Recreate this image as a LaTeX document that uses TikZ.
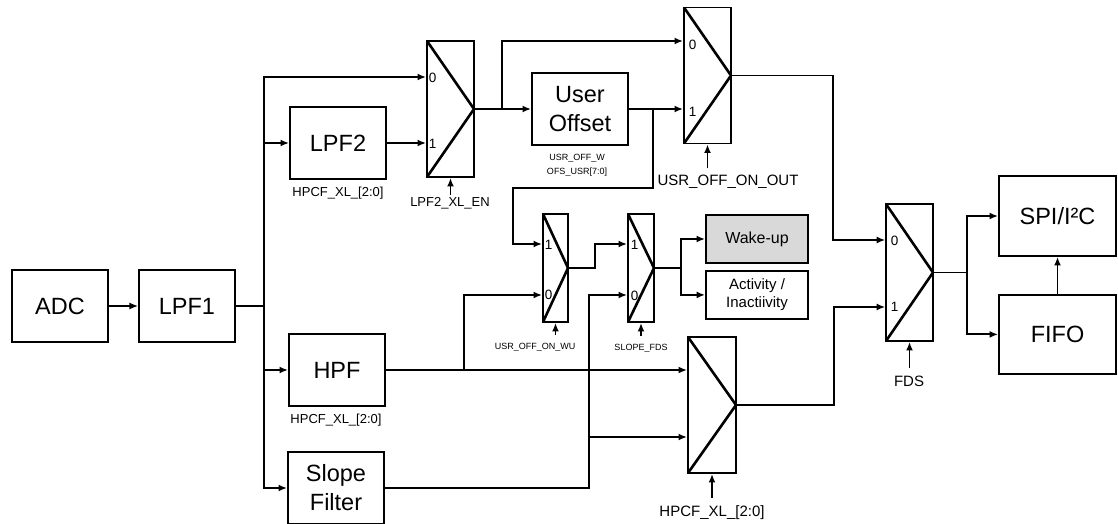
\documentclass[tikz,border=0pt]{standalone}
\usepackage{fontspec}
\setmainfont{Liberation Sans}
\usetikzlibrary{positioning,arrows.meta,calc}
\definecolor{WakeGray}{HTML}{D9D9D9}

\begin{document}
\begin{tikzpicture}[
  x=1pt,y=-1pt,
  line width=1.9pt,
  every node/.style={align=center,inner sep=1pt},
  b/.style={draw,minimum width=96pt,minimum height=72pt,font=\fontsize{23.5}{29}\selectfont},
  e/.style={draw,minimum width=102pt,minimum height=48pt,font=\fontsize{15}{18}\selectfont},
  g/.style={e,fill=WakeGray,font=\fontsize{16}{18}\selectfont},
  m/.style={draw,minimum width=47pt,minimum height=136pt,
    path picture={\draw[line width=2.6pt] (path picture bounding box.north west) -- (path picture bounding box.east)
      -- (path picture bounding box.south west);}},
  sm/.style={m,minimum width=25pt,minimum height=108pt},
  io/.style={font=\fontsize{13.5}{15}\selectfont,inner sep=0pt},
  s/.style={font=\fontsize{13}{15}\selectfont},
  sl/.style={font=\fontsize{15}{17}\selectfont},
  t/.style={font=\fontsize{9}{14}\selectfont},
  arr/.style={-{Latex[length=8.5pt,width=7pt]}},
  tarr/.style={arr,line width=1.3pt}
]
  \useasboundingbox (0,0) rectangle (1118,524);

  % filters
  \node[b] (adc) at (60,306) {ADC};
  \node[b,right=29pt of adc] (lpf1) {LPF1};
  \node[b] (lpf2) at (338,143) {LPF2};
  \node[b] (hpf) at (337,370) {HPF};
  \node[b] (slope) at (336,488) {Slope\\Filter};
  \node[b] (usr) at (580,109) {User\\Offset};

  % muxes
  \node[m] (mlpf) at (450.5,109) {};
  \node[m] (mout) at (707.5,75.5) {};
  \node[sm] (mwu) at (555.5,268) {};
  \node[sm,minimum width=26pt] (mslp) at (641,268) {};
  \node[m,minimum width=48pt] (mhp) at (712,405) {};
  \node[m,minimum height=137pt] (mfds) at (909.5,272.5) {};

  \node[io] (mlpf0) at ([xshift=6.5pt,yshift=31pt]mlpf.west) {0};
  \node[io] (mlpf1) at ([xshift=6.5pt,yshift=-35pt]mlpf.west) {1};
  \node[io] (mout0) at ([xshift=9.5pt,yshift=31pt]mout.west) {0};
  \node[io] (mout1) at ([xshift=9.5pt,yshift=-36pt]mout.west) {1};
  \node[io] (mwu1) at ([xshift=6.5pt,yshift=23pt]mwu.west) {1};
  \node[io] (mwu0) at ([xshift=6.5pt,yshift=-27pt]mwu.west) {0};
  \node[io] (mslp1) at ([xshift=7.5pt,yshift=23pt]mslp.west) {1};
  \node[io] (mslp0) at ([xshift=7.5pt,yshift=-28pt]mslp.west) {0};
  \node[io] (mfds0) at ([xshift=9.5pt,yshift=32pt]mfds.west) {0};
  \node[io] (mfds1) at ([xshift=9.5pt,yshift=-34.5pt]mfds.west) {1};

  % outputs
  \node[g] (wake) at (757,239) {Wake-up};
  \node[e,below=6pt of wake] (act) {Activity /\\Inactiivity};
  \node[b,minimum width=117pt,minimum height=80pt] (spi) at (1057.5,216) {SPI/I²C};
  \node[b,minimum width=117pt,minimum height=79pt,below=37pt of spi] (fifo) {FIFO};

  % register labels
  \node[s] (lpf2cf) at (338,193) {HPCF\_XL\_[2:0]};
  \node[s] (hpfcf) at (336,420) {HPCF\_XL\_[2:0]};
  \node[t] (usrcf) at (577,165) {USR\_OFF\_W\\OFS\_USR[7:0]};
  \node[s] (lpfen) at (450,203) {LPF2\_XL\_EN};
  \node[sl] (outen) at (728,182) {USR\_OFF\_ON\_OUT};
  \node[t] (wuen) at (535,347) {USR\_OFF\_ON\_WU};
  \node[t] (slpen) at (641,348) {SLOPE\_FDS};
  \node[sl] (hpen) at (712,513) {HPCF\_XL\_[2:0]};
  \node[sl] (fdsen) at (909,381) {FDS};

  \draw[arr] (mlpf.south |- lpfen.north) -- (mlpf.south);
  \draw[arr] ([yshift=5pt]mout.south |- outen.north) -- (mout.south);
  \draw[arr] ([yshift=6pt]mwu.south |- wuen.north) -- (mwu.south);
  \draw[arr] ([yshift=6pt]mslp.south |- slpen.north) -- (mslp.south);
  \draw[arr] ([yshift=6pt]mhp.south |- hpen.north) -- (mhp.south);
  \draw[arr] ([yshift=6pt]mfds.south |- fdsen.north) -- (mfds.south);

  % signal path
  \draw[tarr] (adc) -- (lpf1);
  \coordinate[right=28pt of lpf1.east] (bus);
  \draw (lpf1) -- (bus);
  \draw[arr] (bus) |- ([yshift=32pt]mlpf.west);
  \draw[arr] (bus) |- (lpf2);
  \draw[arr] (bus) |- (hpf);
  \draw[arr] (bus) |- (slope);
  \draw[arr] (lpf2) -- (lpf2 -| mlpf.west);
  \draw[arr] (mlpf.east) -- (usr);
  \draw[arr] ($(mlpf.east)+(27,0)$) |- ([yshift=34.5pt]mout.west);
  \draw[arr] (usr) -- (usr -| mout.west);
  \draw[arr] ($(usr.east)+(24,0)$) |- ++(-140,79) |- ([yshift=24pt]mwu.west);
  \draw[arr] (hpf) -- (hpf -| mhp.west);
  \draw[arr] ($(hpf.east)+(78,0)$) |- ([yshift=-27pt]mwu.west);
  \draw[arr] (slope.east) -- ++(204,0) |- ([yshift=-27pt]mslp.west);
  \draw[arr] ($(slope.east)+(204,0)$) |- ([yshift=-32pt]mhp.west);
  \draw[arr] (mwu.east) -- ++(26,0) |- ([yshift=24pt]mslp.west);
  \draw[arr] (mslp.east) -- ++(26,0) |- (wake);
  \draw[arr] ($(mslp.east)+(26,0)$) |- (act);
  \draw[tarr] (mout.east) -- ++(101,0) |- ([yshift=32.5pt]mfds.west);
  \draw[tarr] (mhp.east) -- ++(97,0) |- ([yshift=-34.5pt]mfds.west);
  \draw[arr] (mfds.east) -- ++(33,0) |- (spi);
  \draw[arr] ($(mfds.east)+(33,0)$) |- (fifo);
  \draw[arr] (fifo) -- (spi);
\end{tikzpicture}
\end{document}
